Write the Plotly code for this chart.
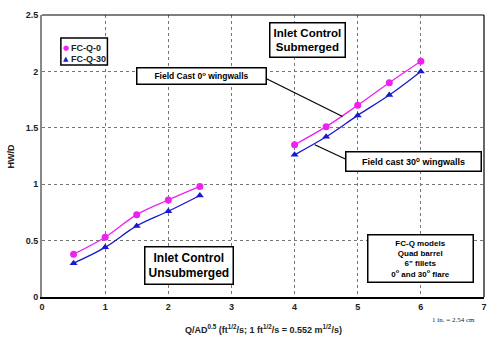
import plotly.graph_objects as go

x_unsub = [0.5, 1.0, 1.5, 2.0, 2.5]
x_sub = [4.0, 4.5, 5.0, 5.5, 6.0]
fcq0_unsub = [0.38, 0.53, 0.73, 0.86, 0.98]
fcq30_unsub = [0.30, 0.44, 0.63, 0.76, 0.90]
fcq0_sub = [1.35, 1.51, 1.70, 1.90, 2.09]
fcq30_sub = [1.26, 1.42, 1.61, 1.79, 2.00]

series_names = ["FC-Q-0", "FC-Q-30"]
x_ticks = [0, 1, 2, 3, 4, 5, 6, 7]
y_ticks = [0, 0.5, 1, 1.5, 2, 2.5]
y_tick_text = ["0", "0.5", "1", "1.5", "2", "2.5"]

C0 = "#EE22EE"
C30 = "#1A1ACC"
FONT = "Liberation Sans, Arial, sans-serif"

fig = go.Figure()
for xs, ys, col in [(x_unsub, fcq0_unsub, C0), (x_sub, fcq0_sub, C0),
                    (x_unsub, fcq30_unsub, C30), (x_sub, fcq30_sub, C30)]:
    fig.add_trace(go.Scatter(x=xs, y=ys, mode="lines", line=dict(color=col, width=1.3, shape="spline"),
                             showlegend=False, hoverinfo="skip"))
fig.add_trace(go.Scatter(x=x_unsub + [None] + x_sub, y=fcq0_unsub + [None] + fcq0_sub, mode="markers",
                         name=series_names[0], showlegend=False, marker=dict(symbol="circle", size=7, color=C0)))
fig.add_trace(go.Scatter(x=x_unsub + [None] + x_sub, y=fcq30_unsub + [None] + fcq30_sub, mode="markers",
                         name=series_names[1], showlegend=False, marker=dict(symbol="triangle-up", size=7, color=C30)))

# manual legend
fig.add_shape(type="rect", xref="paper", yref="paper", x0=0.0427, x1=0.148, y0=0.823, y1=0.918,
              line=dict(color="black", width=1.5), fillcolor="white", layer="above")
for yy, sym, col, name in [(0.883, "●", C0, series_names[0]), (0.844, "▲", C30, series_names[1])]:
    fig.add_annotation(xref="paper", yref="paper", x=0.054, y=yy, text=sym, showarrow=False,
                       font=dict(size=7, color=col, family="DejaVu Sans"), xanchor="center", yanchor="middle")
    fig.add_annotation(xref="paper", yref="paper", x=0.062, y=yy, text="<b>" + name + "</b>", showarrow=False,
                       font=dict(size=9, color="#222", family=FONT), xanchor="left", yanchor="middle")

box = dict(showarrow=False, bordercolor="black", borderwidth=1.5, bgcolor="white", xref="x", yref="y")
fig.add_annotation(x=4.2, y=2.28, text="<b>Inlet Control<br>Submerged</b>", font=dict(size=11.5, color="black", family=FONT), borderpad=3, **box)
fig.add_annotation(x=2.33, y=0.28, text="<b>Inlet Control<br>Unsubmerged</b>", font=dict(size=12, color="black", family=FONT), borderpad=3, **box)
fig.add_annotation(x=2.53, y=1.96, text="<b>Field Cast 0<sup>o</sup> wingwalls</b>", font=dict(size=8.5, color="black", family=FONT), borderpad=2, width=124, **box)
fig.add_annotation(x=5.88, y=1.20, text="<b>Field cast 30<sup>o</sup> wingwalls</b>", font=dict(size=9, color="black", family=FONT), borderpad=3, width=128, **box)
fig.add_annotation(x=5.99, y=0.34, text="<b>FC-Q models<br>Quad barrel<br>6\" fillets<br>0<sup>o</sup> and 30<sup>o</sup> flare</b>",
                   font=dict(size=8, color="black", family=FONT), borderpad=3, width=98, **box)

fig.add_shape(type="line", x0=3.54, y0=1.94, x1=4.76, y1=1.60, line=dict(color="black", width=1.2))
fig.add_shape(type="line", x0=4.83, y0=1.217, x1=4.32, y1=1.35, line=dict(color="black", width=1.2))

fig.add_annotation(xref="paper", yref="paper", x=0.5, y=-0.085, yanchor="top", showarrow=False,
                   text="<b>Q/AD<sup>0.5</sup> (ft<sup>1/2</sup>/s; 1 ft<sup>1/2</sup>/s = 0.552 m<sup>1/2</sup>/s)</b>",
                   font=dict(size=9, color="#222", family=FONT))
fig.add_annotation(xref="paper", yref="paper", x=0.984, y=-0.06, yanchor="top", xanchor="right", showarrow=False,
                   text="1 in. = 2.54 cm", font=dict(size=7, color="#222", family="Liberation Serif, serif"))
fig.add_annotation(xref="paper", yref="paper", x=-0.085, y=0.5, textangle=-90, showarrow=False,
                   text="<b>HW/D</b>", font=dict(size=9, color="#222", family=FONT))

fig.update_xaxes(range=[0, 7], tickvals=x_ticks, showgrid=True, gridcolor="#777", griddash="dot", gridwidth=1,
                 showline=True, linecolor="black", linewidth=2, mirror=False, zeroline=False,
                 tickfont=dict(size=9, color="#222", family=FONT, weight="bold"), ticks="", ticklen=0)
fig.update_yaxes(range=[0, 2.5], tickvals=y_ticks, ticktext=y_tick_text, showgrid=True, gridcolor="#777", griddash="dot", gridwidth=1,
                 showline=True, linecolor="#888", linewidth=2, zeroline=False,
                 tickfont=dict(size=9, color="#222", family=FONT, weight="bold"), ticks="", ticklen=0)
fig.add_shape(type="line", xref="paper", yref="paper", x0=0, x1=1, y0=1, y1=1, line=dict(color="black", width=1.2))
fig.add_shape(type="line", xref="paper", yref="paper", x0=1, x1=1, y0=0, y1=1, line=dict(color="black", width=1.2))

fig.update_layout(width=495, height=338, margin=dict(l=42, r=8, t=15, b=41),
                  paper_bgcolor="white", plot_bgcolor="white", showlegend=False,
                  font=dict(family=FONT))
fig.write_html("out.html")
